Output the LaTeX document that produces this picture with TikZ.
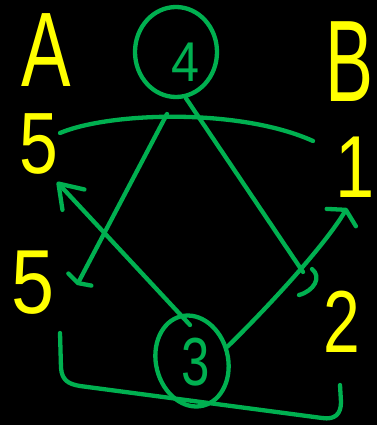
\documentclass[tikz,border=0pt]{standalone}
\usepackage{fontspec}
\setmainfont{Liberation Sans}
\usetikzlibrary{arrows.meta,shapes.geometric}
\definecolor{pen}{RGB}{0,176,80}
\definecolor{chalk}{RGB}{255,255,0}
\tikzset{
  stroke/.style={draw=pen, line width=4.3pt, line cap=round, line join=round},
  lbl/.style={text=chalk, inner sep=0pt, anchor=center},
  numlbl/.style={text=pen, inner sep=0pt, anchor=center},
  circ/.style={ellipse, draw=pen, line width=4.3pt, inner sep=0pt},
  barbwide/.style={-{Straight Barb[length=4pt, width=26pt, round]}},
  barbnarrow/.style={-{Straight Barb[length=22pt, width=30pt, round]}},
  barbmid/.style={-{Straight Barb[length=9pt, width=34pt, round]}},
}
\newcommand{\fs}[1]{\fontsize{#1}{#1}\selectfont}
\begin{document}
\begin{tikzpicture}[x=1pt,y=-1pt]
  \fill[black] (0,0) rectangle (377,425);
  \useasboundingbox (0,0) rectangle (377,425);

  % yellow labels
  \node[lbl, font=\fs{106}, xscale=0.7] (la) at (46,50) {A};
  \node[lbl, font=\fs{116}, xscale=0.62] (lb) at (349,62) {B};
  \node[lbl, font=\fs{87}, xscale=0.8] (l5a) at (39,144) {5};
  \node[lbl, font=\fs{88}, xscale=0.8] (l1) at (355,167) {1};
  \node[lbl, font=\fs{91}, xscale=0.85] (l5b) at (33,283) {5};
  \node[lbl, font=\fs{88}, xscale=0.75] (l2) at (342,322) {2};

  % circled numbers
  \node[circ, minimum width=82pt, minimum height=90pt] (n4) at (176,52) {};
  \node[numlbl, font=\fs{56}, xscale=0.9] (t4) at (186,62) {4};
  \node[circ, minimum width=72pt, minimum height=92pt, rotate=14] (n3) at (192,361) {};
  \node[numlbl, font=\fs{68}, xscale=0.75] (t3) at (196,362) {3};

  % coordinates
  \coordinate (aL) at (60,133);
  \coordinate (aR) at (313,141);
  \coordinate (aM) at (167,114);
  \coordinate (tipL) at (77,285);
  \coordinate (tipA) at (57,182);
  \coordinate (tipR) at (347,208);
  \coordinate (x1) at (303,272);
  \coordinate (s3) at (190,325);
  \coordinate (bL) at (60,333);
  \coordinate (bR) at (340,385);

  % top arc
  \draw[stroke] (aL) .. controls (110,112) and (240,108) .. (aR);
  % arc to lower-left arrow
  \draw[stroke, barbwide] (aM) -- (tipL);
  % from 4 down to the right
  \draw[stroke] (n4.-78) -- (x1);
  \draw[stroke] (312,269) .. controls (322,277) and (314,291) .. (299,295);
  % from 3 up to the right
  \draw[stroke, barbmid] (n3.8) .. controls (270,305) and (325,245) .. (tipR);
  % from 3 up to the left
  \draw[stroke, barbnarrow] (s3) -- (tipA);
  % bottom bracket
  \draw[stroke] (bL) -- (61,368) .. controls (62,380) and (68,384) .. (80,386)
    -- (322,418) .. controls (335,420) and (341,414) .. (341,402) -- (bR);
\end{tikzpicture}
\end{document}
